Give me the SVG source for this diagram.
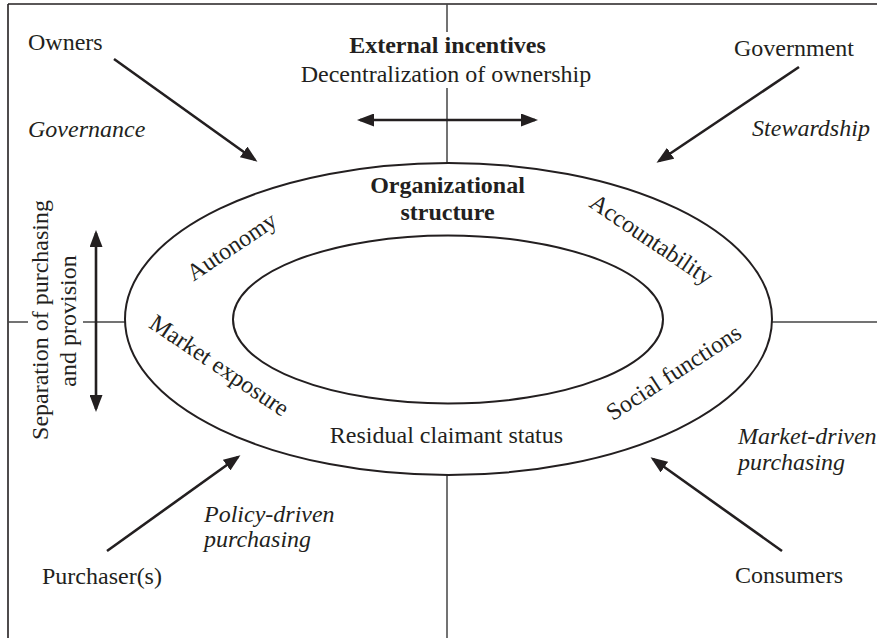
<svg xmlns="http://www.w3.org/2000/svg" width="877" height="638" viewBox="0 0 877 638">
<style>
text{font-family:"Liberation Serif","Times New Roman",serif;font-size:24px;fill:#231f20}
.b{font-weight:bold}
.i{font-style:italic}
.m{text-anchor:middle}
.frame{stroke:#231f20;stroke-width:1.6;fill:none}
.axis{stroke:#444;stroke-width:1.5;fill:none}
.ell{stroke:#231f20;stroke-width:2;fill:none}
.arr{stroke:#231f20;stroke-width:2.6;fill:none}
</style>
<defs>
<marker id="ah" markerUnits="userSpaceOnUse" markerWidth="17" markerHeight="13" refX="14" refY="6.5" orient="auto-start-reverse">
<path d="M0,0 L17,6.5 L0,13 z" fill="#231f20"/>
</marker>
</defs>
<g id="frame">
<line class="frame" x1="8" y1="4" x2="877" y2="4"/>
<line class="frame" x1="8" y1="4" x2="8" y2="638"/>
</g>
<g id="axes">
<line class="axis" x1="447" y1="4" x2="447" y2="32"/>
<line class="axis" x1="447" y1="88" x2="447" y2="163"/>
<line class="axis" x1="447" y1="475" x2="447" y2="638"/>
<line class="axis" x1="8" y1="322" x2="28" y2="322"/>
<line class="axis" x1="83" y1="322" x2="125" y2="322"/>
<line class="axis" x1="772" y1="322" x2="877" y2="322"/>
</g>
<g id="org-structure">
<ellipse class="ell" cx="448.5" cy="319" rx="323.5" ry="156"/>
<ellipse class="ell" cx="448" cy="319.5" rx="215" ry="84"/>
<text class="b m" x="447.5" y="193">Organizational</text>
<text class="b m" x="447.5" y="220">structure</text>
<text class="m" transform="translate(236,253) rotate(-34)">Autonomy</text>
<text class="m" transform="translate(647,246) rotate(34)">Accountability</text>
<text class="m" transform="translate(215,372) rotate(34)">Market exposure</text>
<text class="m" transform="translate(678,379) rotate(-33)">Social functions</text>
<text class="m" x="446.5" y="443">Residual claimant status</text>
</g>
<g id="external">
<text class="b m" x="447.5" y="53">External incentives</text>
<text class="m" x="446" y="82">Decentralization of ownership</text>
</g>
<g id="owners">
<text x="28" y="50">Owners</text>
<text class="i" x="28" y="137">Governance</text>
</g>
<g id="government">
<text x="734" y="56">Government</text>
<text class="i m" x="811" y="136">Stewardship</text>
</g>
<g id="separation">
<text class="m" transform="translate(48,320) rotate(-90)">Separation of purchasing</text>
<text class="m" transform="translate(76,321) rotate(-90)">and provision</text>
</g>
<g id="purchasers">
<text x="42" y="584">Purchaser(s)</text>
<text class="i" x="204" y="522">Policy-driven</text>
<text class="i" x="204" y="547">purchasing</text>
</g>
<g id="consumers">
<text x="735" y="583">Consumers</text>
<text class="i" x="738" y="444">Market-driven</text>
<text class="i" x="738" y="470">purchasing</text>
</g>
<g id="connectors">
<line class="arr" x1="114" y1="59" x2="255" y2="160" marker-end="url(#ah)"/>
<line class="arr" x1="799" y1="67" x2="659" y2="161" marker-end="url(#ah)"/>
<line class="arr" x1="107" y1="551" x2="238" y2="457" marker-end="url(#ah)"/>
<line class="arr" x1="782" y1="551" x2="653" y2="459" marker-end="url(#ah)"/>
<line class="arr" x1="360" y1="120" x2="535" y2="120" marker-start="url(#ah)" marker-end="url(#ah)"/>
<line class="arr" x1="96" y1="233" x2="96" y2="409" marker-start="url(#ah)" marker-end="url(#ah)"/>
</g>
</svg>
